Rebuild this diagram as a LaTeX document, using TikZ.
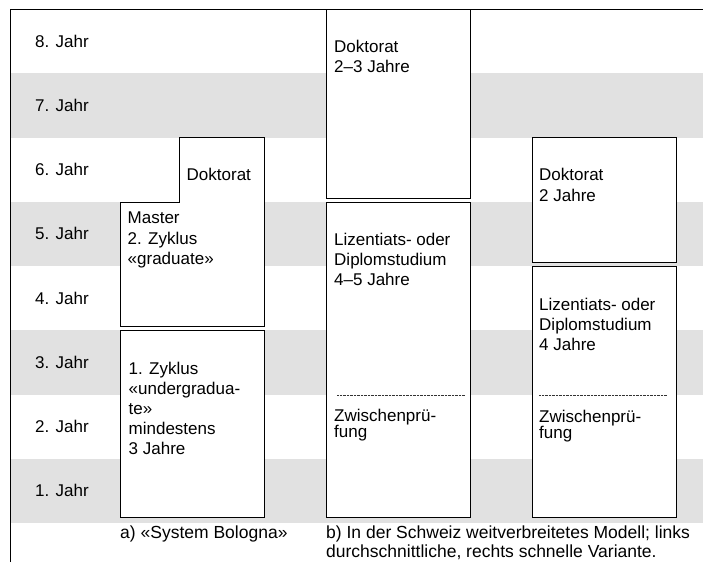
\documentclass[tikz,border=0pt]{standalone}
\usepackage{fontspec}
\setmainfont{Liberation Sans}
\definecolor{bandgray}{RGB}{225,225,225}
\begin{document}
\begin{tikzpicture}[x=1pt,y=-1pt,
  txt/.style={anchor=north west,inner sep=0pt,align=left,
    font=\fontsize{17}{20.3}\selectfont},
  yearlbl/.style={anchor=west,inner sep=0pt,font=\fontsize{17}{20}\selectfont},
  band/.style={fill=bandgray,draw=none},
  boxline/.style={draw=black,fill=white,line width=0.9pt},
  frameline/.style={draw=black,line width=1pt},
  dotline/.style={draw=black!80,line width=0.6pt,dash pattern=on 0.7pt off 0.7pt}]
\useasboundingbox (0,0) rectangle (703,562);
% gray bands
\foreach \k in {1,3,5,7}{
  \fill[band] (10,{9+64.25*\k}) rectangle (703,{9+64.25*(\k+1)});
}
% frame
\draw[frameline] (10,562) -- (10,9) -- (703,9);
% year labels
\foreach \k/\n in {0/8,1/7,2/6,3/5,4/4,5/3,6/2,7/1}{
  \node[yearlbl] (year\n) at (35,{9+64.25*\k+32.1}) {\n. Jahr};
}
% Bologna: Master + Doktorat step shape
\draw[boxline] (120,202) -- (179,202) -- (179,137.5) -- (264,137.5) -- (264,326) -- (120,326) -- cycle;
\draw[boxline] (120,330) rectangle (264,517);
% Middle column
\draw[boxline] (326,9) rectangle (470,198);
\draw[boxline] (326,202) rectangle (470,517);
% Right column
\draw[boxline] (532,137.5) rectangle (676,262);
\draw[boxline] (532,266) rectangle (676,517);
% dotted separators
\coordinate (mdl) at (337,395);
\coordinate (mdr) at (465,395);
\coordinate (rdl) at (539,395);
\coordinate (rdr) at (667,395);
\draw[dotline] (mdl) -- (mdr);
\draw[dotline] (rdl) -- (rdr);
% texts
\node[txt] (bolDok) at (186.5,167.6) {Doktorat};
\node[txt] (master) at (127.5,211.8) {Master\\2. Zyklus\\«graduate»};
\node[txt,font=\fontsize{17}{20}\selectfont] (zyk1) at (128.5,361.8) {1. Zyklus\\«undergradua-\\te»\\mindestens\\3 Jahre};
\node[txt] (midDok) at (334,39.6) {Doktorat\\2–3 Jahre};
\node[txt] (midLiz) at (334,232.8) {Lizentiats- oder\\Diplomstudium\\4–5 Jahre};
\node[txt,font=\fontsize{17}{14.3}\selectfont] (midZw) at (334,408.5) {Zwischenprü-\\fung};
\node[txt] (rDok) at (539,168.3) {Doktorat\\2 Jahre};
\node[txt,font=\fontsize{17}{20}\selectfont] (rLiz) at (539,297.8) {Lizentiats- oder\\Diplomstudium\\4 Jahre};
\node[txt,font=\fontsize{17}{12.5}\selectfont] (rZw) at (539,409.5) {Zwischenprü-\\fung};
\node[txt,font=\fontsize{17.5}{19}\selectfont] (capA) at (120,525.3) {a) «System Bologna»};
\node[txt,font=\fontsize{17.5}{19}\selectfont] (capB) at (326,525.3) {b) In der Schweiz weitverbreitetes Modell; links\\durchschnittliche, rechts schnelle Variante.};
\end{tikzpicture}
\end{document}
